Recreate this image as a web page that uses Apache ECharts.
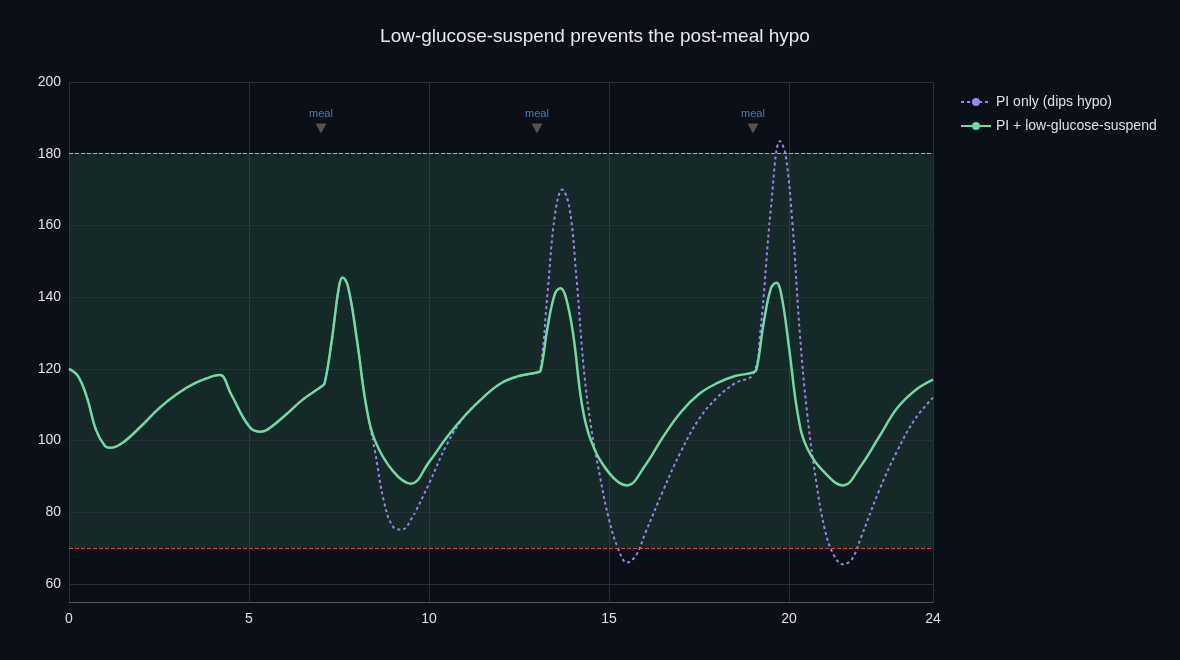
<!DOCTYPE html><html><head><meta charset="utf-8"><script src="https://cdn.jsdelivr.net/npm/echarts@6/dist/echarts.min.js"></script></head>
<body style="margin:0;background:#0b0f17"><div id="c" style="width:1180px;height:660px"></div>
<script>
const hours = [0,0.25,0.5,0.75,1,1.15,1.5,2,2.5,3,3.5,4,4.2,4.5,5,5.3,5.5,6,6.5,7,7.1,7.3,7.5,7.6,7.75,8,8.25,8.5,9,9.5,10,10.5,11,11.5,12,12.5,13,13.1,13.3,13.5,13.65,13.8,14,14.25,14.5,15,15.5,16,16.5,17,17.5,18,18.5,19,19.1,19.3,19.5,19.65,19.8,20,20.25,20.5,21,21.5,22,22.5,23,23.5,24];
const lgsValues = [120,118,112,103,98.5,98,99.5,104,109,113,116,118,118.3,113,104,102.5,103,107,111.5,115,116,128,143,145.5,143,128,110,100,91.5,88,94,101,107,112,116,118,119,119.5,132,141,142.5,140,130,110,100,91,87.5,93,101,108,113,116,118,119,120,133,142.5,144,140,126,107,98,91,87.5,93,101,109,114,117];
const piHours = [0,0.25,0.5,0.75,1,1.15,1.5,2,2.5,3,3.5,4,4.2,4.5,5,5.3,5.5,6,6.5,7,7.1,7.3,7.5,7.6,7.75,8,8.25,8.5,8.75,9,9.25,9.5,10,10.5,11,11.5,12,12.5,13,13.1,13.3,13.5,13.7,13.9,14.1,14.3,14.5,14.75,15,15.25,15.5,15.75,16,16.5,17,17.5,18,18.5,19,19.2,19.5,19.75,19.9,20.1,20.3,20.5,20.75,21,21.25,21.5,21.75,22,22.5,23,23.5,24];
const piValues = [120,118,112,103,98.5,98,99.5,104,109,113,116,118,118.3,113,104,102.5,103,107,111.5,115,116,128,143,145.5,143,128,110,97,83,76,75.2,78,88,99,107,112,116,118,119,120,142,163,170,165,145,120,104,90,78,70,66,68,74,86,97,106,112,116,118.5,130,165,183.5,180,160,130,108,89,75,68,65.5,67,73,86,97,106,112];
const mealHours = [7,13,19];
const yTicks = [60,80,100,120,140,160,180,200];
const fmt = (a,b)=>a.map((t,i)=>[t,b[i]]);
const F = 'Liberation Sans, Arial, sans-serif';
const chart = echarts.init(document.getElementById('c'));
chart.setOption({
  backgroundColor:'#0b0f17',
  title:{text:'Low-glucose-suspend prevents the post-meal hypo',left:590,top:22,textAlign:'center',textStyle:{color:'#e8e8e8',fontSize:19,fontWeight:'normal',fontFamily:F}},
  legend:{orient:'vertical',left:955,top:90,itemGap:10,itemWidth:30,itemHeight:10,textStyle:{color:'#e0e0e0',fontSize:14,fontFamily:F},
    data:['PI only (dips hypo)','PI + low-glucose-suspend']},
  grid:{left:69,right:247,top:82,bottom:58},
  xAxis:{type:'value',min:0,max:24,interval:5,axisLine:{lineStyle:{color:'#555'}},axisTick:{show:false},
    axisLabel:{color:'#e0e0e0',fontSize:14,margin:10,fontFamily:F},splitLine:{lineStyle:{color:'#2a303a'}}},
  yAxis:{type:'value',min:55,max:200,interval:5,axisLine:{show:false},axisTick:{show:false},
    axisLabel:{color:'#e0e0e0',fontSize:14,fontFamily:F,formatter:v=>yTicks.includes(v)?String(v):''},splitLine:{show:false}},
  series:[
    {type:'line',name:'_grid',data:[],silent:true,
      markLine:{symbol:'none',silent:true,label:{show:false},lineStyle:{color:'#2a303a',type:'solid',width:1},data:yTicks.map(v=>({yAxis:v}))},
      markArea:{silent:true,itemStyle:{color:'rgba(40,80,70,0.4)'},data:[[{yAxis:70},{yAxis:180}]]}},
    {type:'line',name:'_ref',data:[],silent:true,z:3,
      markLine:{symbol:'none',silent:true,label:{show:false},data:[
        {yAxis:180,lineStyle:{color:'#d99a80',type:'dashed',width:1,opacity:1}},
        {yAxis:70,lineStyle:{color:'#e04848',type:'dashed',width:1,opacity:1}}]}},
    {type:'scatter',name:'_meal',silent:true,symbol:'triangle',symbolRotate:180,symbolSize:[11,10],itemStyle:{color:'#6b625c'},
      data:mealHours.map(h=>[h,187]),label:{show:true,position:'top',distance:4,formatter:'meal',color:'#4f9ad8',fontSize:11,fontFamily:F}},
    {type:'line',name:'PI only (dips hypo)',data:fmt(piHours,piValues),smooth:0.4,symbol:'none',z:4,lineStyle:{color:'#9b86e8',width:2,type:[3,3]},itemStyle:{color:'#9b86e8'}},
    {type:'line',name:'PI + low-glucose-suspend',data:fmt(hours,lgsValues),smooth:0.4,symbol:'none',z:5,lineStyle:{color:'#6fdba0',width:2.5},itemStyle:{color:'#6fdba0'}}
  ]
});
</script></body></html>
